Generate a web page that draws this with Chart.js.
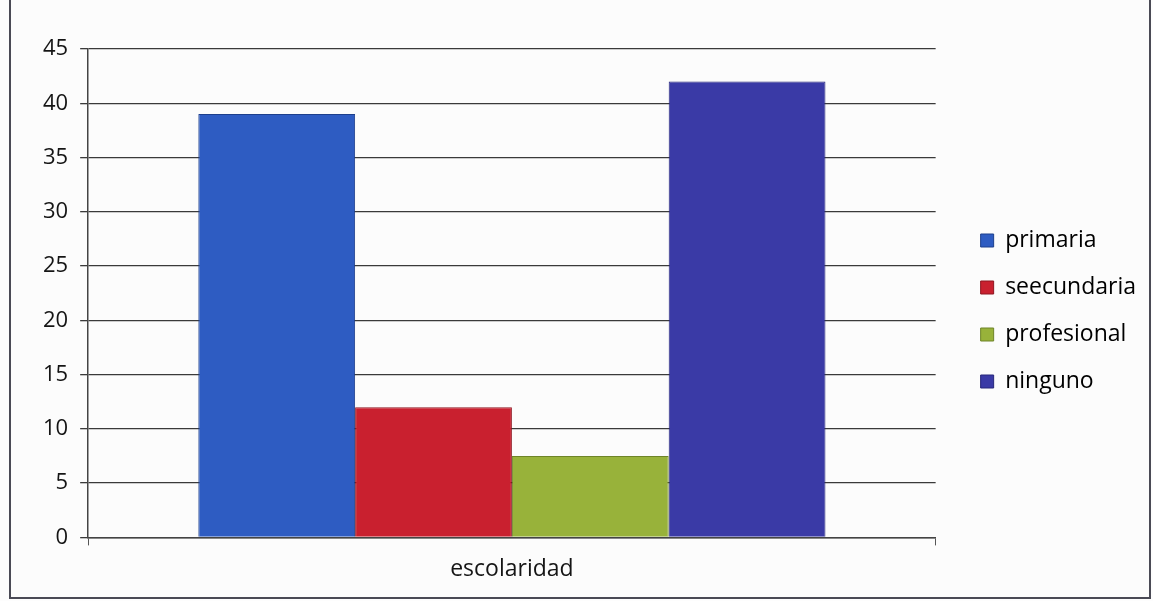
<!DOCTYPE html>
<html>
<head>
<meta charset="utf-8">
<script src="https://cdn.jsdelivr.net/npm/chart.js@4.4.0/dist/chart.umd.min.js"></script>
<style>
  html, body { margin: 0; padding: 0; background: #fdfdfd; }
  #frame {
    position: absolute; left: 9px; top: -2px;
    width: 1138px; height: 597px;
    border: 2px solid #4a4a55;
    background: #fcfcfc;
  }
  #chart-box { position: absolute; left: 0; top: 0; width: 1138px; height: 597px; }
</style>
</head>
<body>
<div id="frame"><div id="chart-box"><canvas id="escolaridad-chart"></canvas></div></div>
<script>
// escolaridad data
const categories = ["escolaridad"];
const seriesNames = ["primaria", "seecundaria", "profesional", "ninguno"];
const primaria = [39];
const seecundaria = [12];
const profesional = [7.5];
const ninguno = [42];
const yTicks = [0, 5, 10, 15, 20, 25, 30, 35, 40, 45];

const fills = ["#2e5cc2", "#c9202f", "#98b23a", "#3a3aa6"];
const edges = ["#1d3f8c", "#8e1620", "#6e8428", "#26267a"];

const FONT = "'Open Sans', 'DejaVu Sans', sans-serif";
const LEGEND_SHIFT = 21;   // extra gap between plot and legend
const LEGEND_LIFT = 10;    // legend sits a little above the vertical middle

const values = [primaria, seecundaria, profesional, ninguno];
const datasets = seriesNames.map((name, i) => ({
  label: name,
  data: values[i],
  backgroundColor: fills[i],
  borderColor: edges[i],
  borderWidth: 1,
  barPercentage: 1,
  categoryPercentage: 0.74,
}));

// nudge the legend box from where the layout puts it
const legendGap = {
  id: "legendGap",
  afterLayout(chart) {
    const lg = chart.legend;
    lg.left += LEGEND_SHIFT;
    lg.right += LEGEND_SHIFT;
    lg.top -= LEGEND_LIFT;
    lg.bottom -= LEGEND_LIFT;
  },
};

new Chart(document.getElementById("escolaridad-chart"), {
  type: "bar",
  data: { labels: categories, datasets },
  plugins: [legendGap],
  options: {
    responsive: true,
    maintainAspectRatio: false,
    animation: false,
    layout: { padding: { left: 20, right: 24, top: 49, bottom: 4 } },
    plugins: {
      tooltip: { enabled: false },
      legend: {
        position: "right",
        align: "center",
        labels: {
          font: { family: FONT, size: 23 },
          color: "#151515",
          boxWidth: 13,
          boxHeight: 13,
          padding: 24,
          generateLabels: (chart) => chart.data.datasets.map((ds, i) => ({
            text: ds.label,
            fillStyle: fills[i],
            strokeStyle: edges[i],
            lineWidth: 1,
            datasetIndex: i,
          })),
        },
      },
    },
    scales: {
      x: {
        grid: { display: true, drawOnChartArea: false, offset: true, tickLength: 8, color: "#555" },
        border: { display: true, color: "#444", width: 1.5 },
        ticks: { font: { family: FONT, size: 23 }, color: "#151515", padding: 10 },
      },
      y: {
        min: 0,
        max: 45,
        afterBuildTicks: (axis) => { axis.ticks = yTicks.map((v) => ({ value: v })); },
        grid: { color: "#3a3a3a", lineWidth: 1.3, tickLength: 8 },
        border: { display: true, color: "#444", width: 1.5 },
        ticks: { font: { family: FONT, size: 22 }, color: "#151515", padding: 12 },
      },
    },
  },
});
</script>
</body>
</html>
